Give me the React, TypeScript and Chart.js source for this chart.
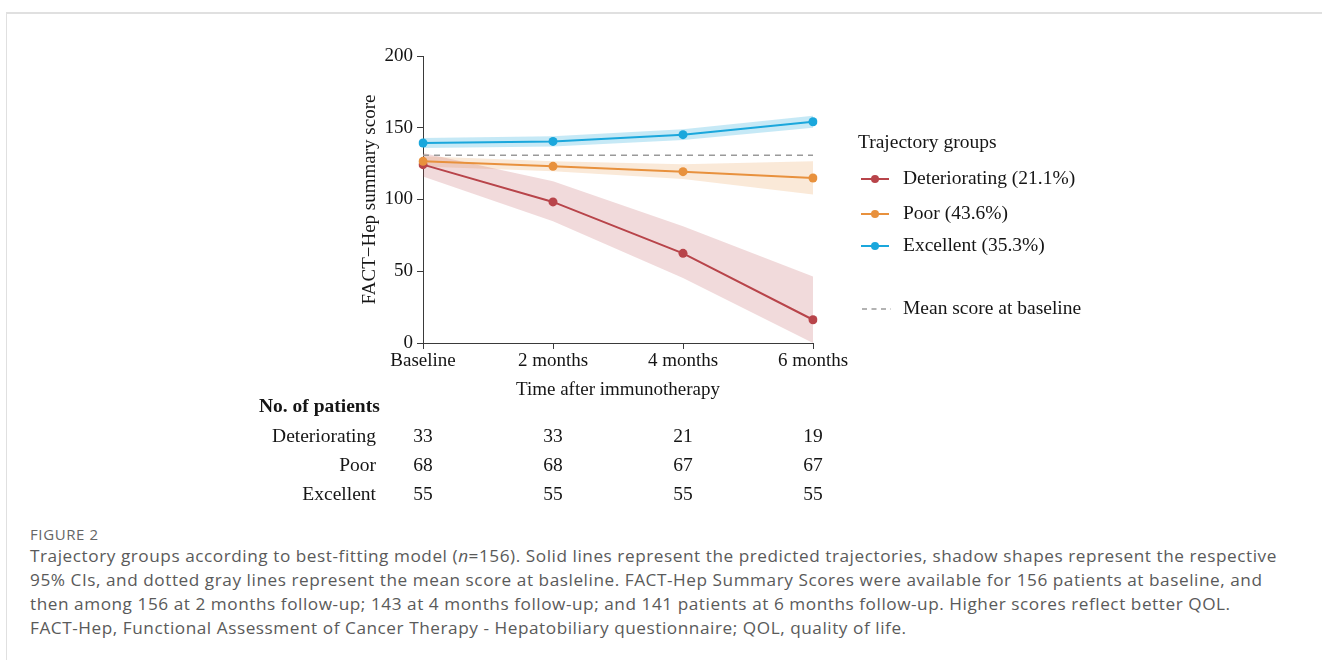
import React, { useEffect, useRef } from 'react';
import { Chart, registerables } from 'chart.js';

Chart.register(...registerables);

const categories = ['Baseline', '2 months', '4 months', '6 months'];
const deteriorating = [124.3, 98.3, 62.5, 16.2];
const deterioratingLow = [116.1, 84.8, 45.3, 0];
const deterioratingHigh = [132.4, 112.7, 81.3, 46.4];
const poor = [126.6, 123.1, 119.4, 115.0];
const poorLow = [123.0, 119.6, 114.2, 103.4];
const poorHigh = [130.2, 126.6, 124.6, 126.6];
const excellent = [139.4, 140.5, 145.2, 154.2];
const excellentLow = [135.9, 137.0, 141.5, 150.0];
const excellentHigh = [142.9, 144.0, 148.9, 158.3];
const baselineMean = [130.8, 130.8, 130.8, 130.8];
const groupLabels = ['Deteriorating (21.1%)', 'Poor (43.6%)', 'Excellent (35.3%)'];
const meanLabel = 'Mean score at baseline';
const rowLabels = ['Deteriorating', 'Poor', 'Excellent'];
const patientsDeteriorating = [33, 33, 21, 19];
const patientsPoor = [68, 68, 67, 67];
const patientsExcellent = [55, 55, 55, 55];

const RED = '#b8444a';
const ORANGE = '#e8913d';
const BLUE = '#1aa7dc';
const GRAY = '#9a9a9a';
const SERIF = '"Liberation Serif", "Times New Roman", serif';
const TEXT = '#151515';
const AXIS = '#3a3a3a';

const captionLines = [
  ['Trajectory groups according to best-fitting model (', 'n', '=156). Solid lines represent the predicted trajectories, shadow shapes represent the respective'],
  ['95% CIs, and dotted gray lines represent the mean score at basleline. FACT-Hep Summary Scores were available for 156 patients at baseline, and'],
  ['then among 156 at 2 months follow-up; 143 at 4 months follow-up; and 141 patients at 6 months follow-up. Higher scores reflect better QOL.'],
  ['FACT-Hep, Functional Assessment of Cancer Therapy - Hepatobiliary questionnaire; QOL, quality of life.'],
];

const overlayPlugin = {
  id: 'overlay',
  afterDraw(chart: any) {
    const ctx = chart.ctx as CanvasRenderingContext2D;
    const xScale = chart.scales.x;
    ctx.save();
    ctx.textBaseline = 'middle';
    ctx.fillStyle = TEXT;
    ctx.font = `19.5px ${SERIF}`;
    // legend
    ctx.textAlign = 'left';
    ctx.fillText('Trajectory groups', 858, 143);
    const colors = [RED, ORANGE, BLUE];
    const ys = [179, 214, 246];
    groupLabels.forEach((lab, i) => {
      ctx.strokeStyle = colors[i];
      ctx.lineWidth = 2;
      ctx.beginPath();
      ctx.moveTo(861, ys[i]);
      ctx.lineTo(889, ys[i]);
      ctx.stroke();
      ctx.fillStyle = colors[i];
      ctx.beginPath();
      ctx.arc(875, ys[i], 4, 0, Math.PI * 2);
      ctx.fill();
      ctx.fillStyle = TEXT;
      ctx.fillText(lab, 903, ys[i]);
    });
    ctx.strokeStyle = GRAY;
    ctx.lineWidth = 1.5;
    ctx.setLineDash([5, 4.5]);
    ctx.beginPath();
    ctx.moveTo(862, 309);
    ctx.lineTo(891, 309);
    ctx.stroke();
    ctx.setLineDash([]);
    ctx.fillText(meanLabel, 903, 309);

    // table
    ctx.font = `bold 19.5px ${SERIF}`;
    ctx.textAlign = 'left';
    ctx.fillText('No. of patients', 259, 407);
    ctx.font = `19.5px ${SERIF}`;
    const rows = [patientsDeteriorating, patientsPoor, patientsExcellent];
    const rowY = [437, 466, 495];
    rows.forEach((vals, r) => {
      ctx.textAlign = 'right';
      ctx.fillText(rowLabels[r], 376, rowY[r]);
      ctx.textAlign = 'center';
      vals.forEach((v, i) => {
        ctx.fillText(String(v), xScale.getPixelForValue(i), rowY[r]);
      });
    });
    ctx.restore();
  },
};

export default function App() {
  const ref = useRef<HTMLCanvasElement | null>(null);
  useEffect(() => {
    if (!ref.current) return;
    const band = (data: number[], color: string, fill: any) => ({
      data,
      borderWidth: 0,
      pointRadius: 0,
      backgroundColor: color,
      borderColor: 'rgba(0,0,0,0)',
      fill,
      tension: 0,
    });
    const line = (label: string, data: number[], color: string) => ({
      label,
      data,
      borderColor: color,
      backgroundColor: color,
      borderWidth: 2,
      pointRadius: 4.5,
      pointBorderWidth: 0,
      pointBackgroundColor: color,
      fill: false,
      tension: 0,
    });
    const chart = new Chart(ref.current, {
      type: 'line',
      data: {
        labels: categories,
        datasets: [
          line(groupLabels[2], excellent, BLUE),
          line(groupLabels[1], poor, ORANGE),
          line(groupLabels[0], deteriorating, RED),
          {
            label: meanLabel,
            data: baselineMean,
            borderColor: GRAY,
            borderWidth: 1.5,
            borderDash: [6, 5],
            pointRadius: 0,
            fill: false,
          },
          band(deterioratingLow, 'rgba(0,0,0,0)', false),
          band(deterioratingHigh, 'rgba(184,68,74,0.2)', '-1'),
          band(poorLow, 'rgba(0,0,0,0)', false),
          band(poorHigh, 'rgba(232,145,61,0.2)', '-1'),
          band(excellentLow, 'rgba(0,0,0,0)', false),
          band(excellentHigh, 'rgba(26,167,220,0.25)', '-1'),
        ] as any,
      },
      options: {
        animation: false,
        responsive: false,
        maintainAspectRatio: false,
        layout: { padding: { left: 340, right: 509, top: 56, bottom: 117 } },
        plugins: {
          legend: { display: false },
          tooltip: { enabled: false },
          filler: { drawTime: 'beforeDatasetsDraw' } as any,
        },
        scales: {
          x: {
            offset: false,
            grid: { drawOnChartArea: false, tickLength: 6, color: AXIS },
            border: { color: AXIS, width: 1 },
            ticks: { font: { family: SERIF, size: 19 }, color: TEXT, padding: 1, maxRotation: 0, autoSkip: false },
            title: {
              display: true,
              text: 'Time after immunotherapy',
              font: { family: SERIF, size: 19 },
              color: TEXT,
              padding: { top: 0, bottom: 2 },
            },
            afterFit: (s: any) => {
              s.height = 60;
            },
          },
          y: {
            min: 0,
            max: 200,
            grid: { drawOnChartArea: false, tickLength: 6, color: AXIS },
            border: { color: AXIS, width: 1 },
            ticks: { stepSize: 50, font: { family: SERIF, size: 19 }, color: TEXT, padding: 4 },
            title: {
              display: true,
              text: 'FACT\u2212Hep summary score',
              font: { family: SERIF, size: 19 },
              color: TEXT,
              padding: { top: 18.6, bottom: 0 },
            },
            afterFit: (s: any) => {
              s.width = 83;
            },
          },
        } as any,
      },
      plugins: [overlayPlugin],
    });
    return () => chart.destroy();
  }, []);

  return (
    <div style={{ position: 'absolute', left: 0, top: 0, width: 1322, height: 660, overflow: 'hidden', background: '#fff' }}>
      <div
        style={{
          position: 'absolute',
          left: 6,
          top: 12,
          width: 1400,
          height: 700,
          borderTop: '2px solid #e0e0e0',
          borderLeft: '1px solid #e0e0e0',
        }}
      />
      <canvas ref={ref} width={1322} height={520} style={{ position: 'absolute', left: 0, top: 0, width: 1322, height: 520 }} />
      <div
        style={{
          position: 'absolute',
          left: 30,
          top: 524,
          fontFamily: '"Open Sans", sans-serif',
          fontSize: 15,
          letterSpacing: '0.6px',
          lineHeight: '20px',
          color: '#666',
          whiteSpace: 'nowrap',
        }}
      >
        FIGURE 2
      </div>
      <div
        style={{
          position: 'absolute',
          left: 30,
          top: 544,
          fontFamily: '"Open Sans", sans-serif',
          fontSize: 17.2,
          letterSpacing: '0.55px',
          lineHeight: '24px',
          color: '#5a5a5a',
          whiteSpace: 'nowrap',
        }}
      >
        {captionLines.map((parts, i) => (
          <div key={i}>
            {parts.length === 3 ? (
              <>
                {parts[0]}
                <i>{parts[1]}</i>
                {parts[2]}
              </>
            ) : (
              parts[0]
            )}
          </div>
        ))}
      </div>
    </div>
  );
}
